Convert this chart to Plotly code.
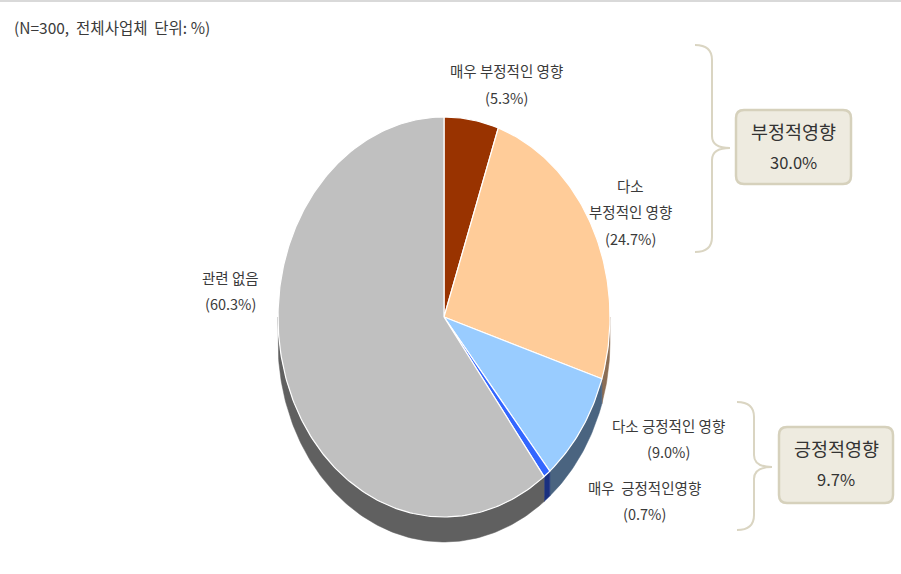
import numpy as np
import plotly.graph_objects as go

# slices, clockwise from 12 o'clock
labels = ["매우 부정적인 영향", "다소 부정적인 영향", "다소 긍정적인 영향", "매우 긍정적인 영향", "관련 없음"]
values = [5.3, 24.7, 9.0, 0.7, 60.3]
label_text = [["매우 부정적인 영향"], ["다소", "부정적인 영향"], ["다소 긍정적인 영향"], ["매우  긍정적인영향"], ["관련 없음"]]
top_colors = ["#993300", "#FFCC99", "#99CCFF", "#3366FF", "#C0C0C0"]
side_colors = ["#4D1A00", "#8C6E55", "#4A6480", "#1A3080", "#606060"]

group_names = ["부정적영향", "긍정적영향"]
group_values = [30.0, 9.7]

# pie geometry in pixel units
cx, cy, rx, ry, depth = 444, 317, 166, 200, 25


def arc(t1, t2, dy=0):
    n = max(int(abs(t2 - t1) / 1.0) + 2, 3)
    t = np.radians(np.linspace(t1, t2, n))
    return cx + rx * np.sin(t), cy - ry * np.cos(t) + dy


fig = go.Figure()

cum = np.concatenate([[0], np.cumsum(values)])
angles = cum / cum[-1] * 360

# side walls (only the lower half is visible)
for i in range(len(values)):
    a1, a2 = max(angles[i], 90), min(angles[i + 1], 270)
    if a2 <= a1:
        continue
    x1, y1 = arc(a1, a2)
    x2, y2 = arc(a2, a1, depth)
    fig.add_trace(go.Scatter(
        x=np.concatenate([x1, x2, x1[:1]]), y=np.concatenate([y1, y2, y1[:1]]),
        fill="toself", fillcolor=side_colors[i], mode="lines",
        line=dict(color=side_colors[i], width=0.5), hoverinfo="skip", showlegend=False))

# top faces
for i in range(len(values)):
    xa, ya = arc(angles[i], angles[i + 1])
    fig.add_trace(go.Scatter(
        x=np.concatenate([[cx], xa, [cx]]), y=np.concatenate([[cy], ya, [cy]]),
        fill="toself", fillcolor=top_colors[i], mode="lines",
        line=dict(color="white", width=1.2), name=labels[i],
        hoverinfo="name", showlegend=False))

fam = "Noto Sans CJK KR, Noto Sans, sans-serif"
font = dict(family=fam, color="#3A3A3A", size=14.5)

# (x centre, y of first line, line step)
label_pos = [(506, 70, 27), (630, 185, 26.5), (668, 425, 26), (644, 487, 26), (230, 277, 26)]
for i, (lx, ly, step) in enumerate(label_pos):
    lines = label_text[i] + [f"({values[i]:.1f}%)"]
    for k, s in enumerate(lines):
        fig.add_annotation(x=lx, y=ly + k * step, xref="x", yref="y", showarrow=False,
                           text=s, font=font)

fig.add_annotation(x=12, y=27, xref="x", yref="y", xanchor="left", showarrow=False,
                   text="(N=300,  전체사업체  단위: %)", font=dict(family=fam, color="#3A3A3A", size=15.5))

# group boxes
boxes = [(736, 110, 851, 184), (779, 427, 893, 503)]
for (x0, y0, x1, y1), name, val in zip(boxes, group_names, group_values):
    r = 8
    path = (f"M {x0+r},{y0} L {x1-r},{y0} Q {x1},{y0} {x1},{y0+r} L {x1},{y1-r} "
            f"Q {x1},{y1} {x1-r},{y1} L {x0+r},{y1} Q {x0},{y1} {x0},{y1-r} "
            f"L {x0},{y0+r} Q {x0},{y0} {x0+r},{y0} Z")
    fig.add_shape(type="path", path=path, xref="x", yref="y",
                  fillcolor="#EEEBE0", line=dict(color="#D6D1BC", width=2.5), layer="below")
    xm = (x0 + x1) / 2
    fig.add_annotation(x=xm, y=y0 + 21, xref="x", yref="y", showarrow=False,
                       text=name, font=dict(family=fam, color="#333333", size=18.5))
    fig.add_annotation(x=xm, y=y0 + 52, xref="x", yref="y", showarrow=False,
                       text=f"{val:.1f}%", font=dict(family=fam, color="#333333", size=16.5))

# curly braces
for (bx, top, mid, bot, tip) in [(712, 45, 148, 252, 730), (754, 402, 467, 530, 772)]:
    path = (f"M {bx-17},{top} Q {bx},{top} {bx},{top+15} L {bx},{mid-12} "
            f"Q {bx},{mid} {tip},{mid} Q {bx},{mid} {bx},{mid+12} "
            f"L {bx},{bot-15} Q {bx},{bot} {bx-17},{bot}")
    fig.add_shape(type="path", path=path, xref="x", yref="y",
                  line=dict(color="#DAD5C2", width=2))

fig.add_shape(type="line", x0=0, x1=901, y0=1, y1=1, xref="x", yref="y",
              line=dict(color="#CCCCCC", width=1.5))

fig.update_xaxes(range=[0, 901], visible=False, fixedrange=True)
fig.update_yaxes(range=[574, 0], visible=False, fixedrange=True)
fig.update_layout(width=901, height=574, margin=dict(l=0, r=0, t=0, b=0),
                  plot_bgcolor="white", paper_bgcolor="white", showlegend=False)

fig.write_html("out.html", config={"displayModeBar": False},
               post_script="document.body.style.margin='0';")
